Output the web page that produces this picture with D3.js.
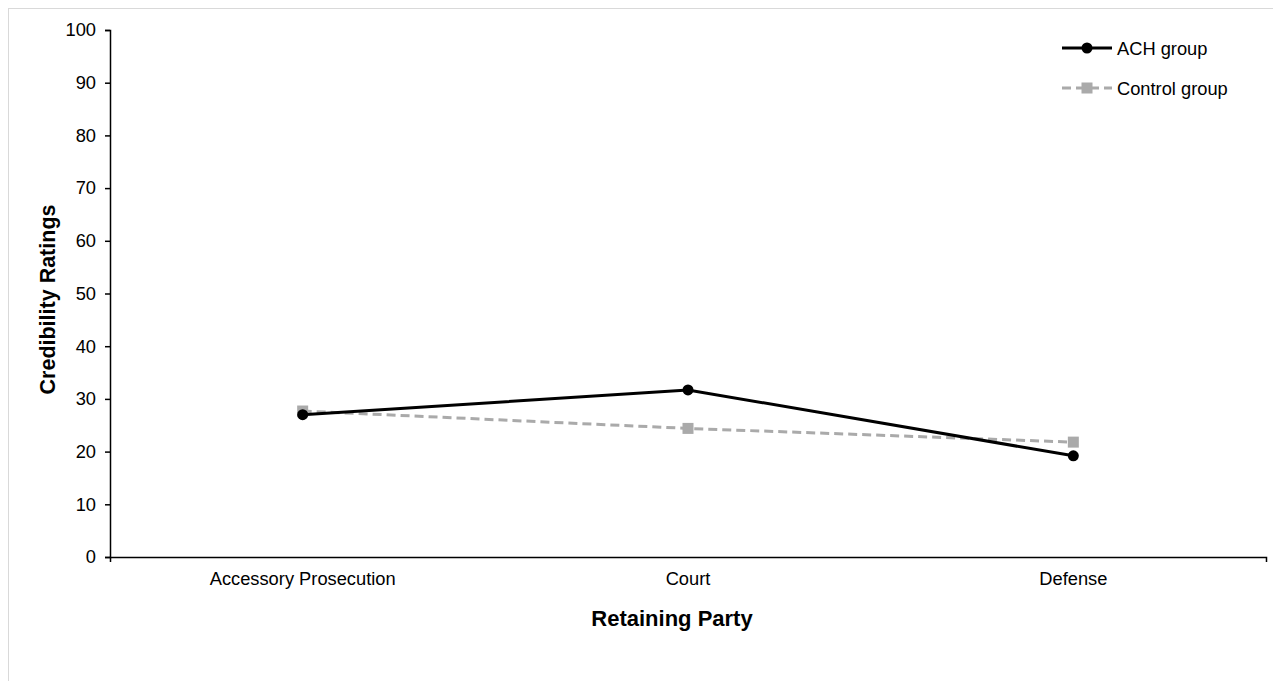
<!DOCTYPE html>
<html>
<head>
<meta charset="utf-8">
<script src="https://cdn.jsdelivr.net/npm/d3@7"></script>
<style>
  html, body { margin: 0; padding: 0; background: #fff; }
  svg { display: block; font-family: "Liberation Sans", Arial, sans-serif; }
</style>
</head>
<body>
<svg id="chart" width="1273" height="681"></svg>
<script>
const categories = ["Accessory Prosecution", "Court", "Defense"];
const achValues = [27.0, 31.7, 19.2];
const controlValues = [27.7, 24.4, 21.8];
const yTicks = [0, 10, 20, 30, 40, 50, 60, 70, 80, 90, 100];
const seriesNames = ["ACH group", "Control group"];

const svg = d3.select("#chart");
const m = { left: 110, right: 1266, top: 30, bottom: 557 };
const FS = 18.3;

// outer border
svg.append("rect").attr("x", 8.5).attr("y", 8.5).attr("width", 1400).attr("height", 800)
  .attr("fill", "none").attr("stroke", "#d9d9d9").attr("stroke-width", 1);

const x = d3.scaleBand().domain(categories).range([m.left, m.right]);
const y = d3.scaleLinear().domain([0, 100]).range([m.bottom, m.top]);

// y axis
const yAxis = svg.append("g").attr("transform", `translate(${m.left},0)`)
  .call(d3.axisLeft(y).tickValues(yTicks).tickSize(5).tickPadding(9));
yAxis.select(".domain").attr("stroke", "#000").attr("stroke-width", 1.5);
yAxis.selectAll(".tick line").attr("stroke", "#000").attr("stroke-width", 1.5);
yAxis.selectAll(".tick text").attr("font-size", FS).attr("fill", "#000")
  .attr("font-family", "Liberation Sans, Arial, sans-serif");

// x axis
const xAxis = svg.append("g").attr("transform", `translate(0,${m.bottom})`)
  .call(d3.axisBottom(x).tickSize(0).tickSizeOuter(5).tickPadding(15));
xAxis.select(".domain").attr("stroke", "#000").attr("stroke-width", 1.5);
xAxis.selectAll(".tick text").attr("font-size", FS).attr("fill", "#000")
  .attr("font-family", "Liberation Sans, Arial, sans-serif");

// axis titles
svg.append("text").attr("x", 672).attr("y", 626)
  .attr("text-anchor", "middle").attr("font-size", 22).attr("font-weight", "bold")
  .text("Retaining Party");
svg.append("text").attr("transform", `translate(55,${(m.top + m.bottom) / 2 + 6}) rotate(-90)`)
  .attr("text-anchor", "middle").attr("font-size", 21.5).attr("font-weight", "bold")
  .text("Credibility Ratings");

const cx = d => x(d) + x.bandwidth() / 2;
const line = d3.line().x(d => cx(d.c)).y(d => y(d.v));

const ctrl = categories.map((c, i) => ({ c, v: controlValues[i] }));
const ach = categories.map((c, i) => ({ c, v: achValues[i] }));

// control series
svg.append("path").datum(ctrl).attr("d", line).attr("fill", "none")
  .attr("stroke", "#aaaaaa").attr("stroke-width", 3).attr("stroke-dasharray", "9,5");
svg.selectAll(".ctrlpt").data(ctrl).enter().append("rect")
  .attr("x", d => cx(d.c) - 5.5).attr("y", d => y(d.v) - 5.5)
  .attr("width", 11).attr("height", 11).attr("fill", "#aaaaaa");

// ACH series
svg.append("path").datum(ach).attr("d", line).attr("fill", "none")
  .attr("stroke", "#000").attr("stroke-width", 3);
svg.selectAll(".achpt").data(ach).enter().append("circle")
  .attr("cx", d => cx(d.c)).attr("cy", d => y(d.v)).attr("r", 5.5).attr("fill", "#000");

// legend
const lg = svg.append("g");
const ly = [48, 88];
lg.append("line").attr("x1", 1062).attr("x2", 1112).attr("y1", ly[0]).attr("y2", ly[0])
  .attr("stroke", "#000").attr("stroke-width", 3);
lg.append("circle").attr("cx", 1087).attr("cy", ly[0]).attr("r", 5.5).attr("fill", "#000");
lg.append("line").attr("x1", 1062).attr("x2", 1112).attr("y1", ly[1]).attr("y2", ly[1])
  .attr("stroke", "#aaaaaa").attr("stroke-width", 3).attr("stroke-dasharray", "9,5");
lg.append("rect").attr("x", 1081.5).attr("y", ly[1] - 5.5).attr("width", 11).attr("height", 11).attr("fill", "#aaaaaa");
lg.selectAll(".lt").data(seriesNames).enter().append("text")
  .attr("x", 1117).attr("y", (d, i) => ly[i] + 6.5).attr("font-size", FS).attr("fill", "#000")
  .text(d => d);
</script>
</body>
</html>
